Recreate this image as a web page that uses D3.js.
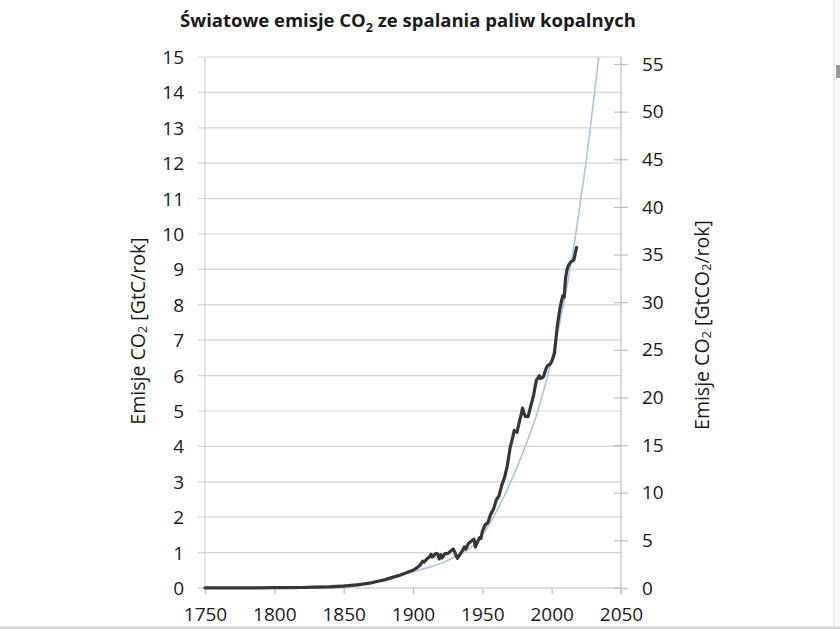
<!DOCTYPE html>
<html>
<head>
<meta charset="utf-8">
<script src="https://cdn.jsdelivr.net/npm/d3@7"></script>
<style>
  html, body { margin: 0; padding: 0; background: #ffffff; }
  svg { display: block; }
  text { font-family: "Open Sans", Lato, sans-serif; fill: #1a1a1a; }
</style>
</head>
<body>
<svg id="chart" width="840" height="629"></svg>
<script>
// ---- data ----
const histYears = [1750,1770,1790,1800,1810,1820,1830,1840,1850,1860,1870,1880,1890,1900,1903,1905,1907,1908,1910,1912,1913,1914,1916,1917,1918,1919,1920,1921,1923,1925,1927,1929,1930,1932,1934,1936,1937,1938,1940,1942,1943,1944,1945,1946,1948,1949,1950,1952,1954,1956,1958,1960,1962,1964,1966,1968,1970,1972,1973,1974,1975,1977,1978,1979,1980,1981,1983,1985,1987,1989,1990,1991,1992,1994,1996,1997,1998,1999,2000,2001,2002,2003,2004,2005,2006,2007,2008,2009,2010,2011,2012,2013,2014,2015,2016,2017,2018];
const histValues = [0.003,0.004,0.006,0.008,0.01,0.014,0.024,0.033,0.054,0.09,0.147,0.236,0.356,0.50,0.58,0.64,0.76,0.73,0.82,0.88,0.95,0.88,0.96,0.98,0.94,0.82,0.94,0.85,0.97,0.97,1.04,1.10,1.02,0.84,0.96,1.08,1.16,1.10,1.26,1.32,1.36,1.38,1.16,1.26,1.42,1.40,1.60,1.78,1.85,2.08,2.22,2.48,2.60,2.90,3.12,3.45,3.95,4.27,4.45,4.42,4.40,4.75,4.90,5.08,4.95,4.85,4.84,5.15,5.45,5.88,5.92,6.00,5.92,5.96,6.20,6.28,6.30,6.33,6.40,6.50,6.63,7.00,7.38,7.65,7.90,8.09,8.25,8.22,8.75,8.98,9.10,9.17,9.22,9.24,9.27,9.45,9.62];

const fitYears  = [1750,1800,1850,1875,1900,1925,1950,1960,1970,1980,1990,2000,2010,2015,2020,2025,2030,2034];
const fitValues = [0.003,0.02,0.08,0.2,0.46,0.78,1.5,2.15,2.95,3.9,5.0,6.45,8.3,9.4,10.7,12.1,13.7,15.0];

const xTicks = [1750,1800,1850,1900,1950,2000,2050];
const yTicksLeft = [0,1,2,3,4,5,6,7,8,9,10,11,12,13,14,15];
const yTicksRight = [0,5,10,15,20,25,30,35,40,45,50,55];

const titleMain = "Światowe emisje CO";
const titleRest = " ze spalania paliw kopalnych";
const leftLabel = ["Emisje CO", "2", " [GtC/rok]"];
const rightLabel = ["Emisje CO", "2", " [GtCO", "2", "/rok]"];

// ---- scales ----
const x = d3.scaleLinear().domain([1750, 2050]).range([205, 621]);
const y = d3.scaleLinear().domain([0, 15]).range([588, 57]);
const y2 = d3.scaleLinear().domain([0, 55]).range([588, 64]);

const FONT = "'Open Sans', Lato, sans-serif";
const svg = d3.select("#chart");

// window border artifacts
svg.append("rect").attr("x", 833).attr("y", 0).attr("width", 7).attr("height", 629).attr("fill", "#fafafa");
svg.append("line").attr("x1", 834).attr("x2", 834).attr("y1", 0).attr("y2", 629).attr("stroke", "#e2e2e2");
svg.append("rect").attr("x", 836).attr("y", 65).attr("width", 4).attr("height", 13).attr("fill", "#9a9a9a");
svg.append("rect").attr("x", 0).attr("y", 626.5).attr("width", 840).attr("height", 2.5).attr("fill", "#d6d6d6");

// gridlines
svg.append("g")
  .selectAll("line")
  .data(yTicksLeft)
  .join("line")
  .attr("x1", 198).attr("x2", 621)
  .attr("y1", d => y(d)).attr("y2", d => y(d))
  .attr("stroke", d => d === 0 ? "#bdbdbd" : "#d4d4d4")
  .attr("stroke-width", 1.2);

// left axis line
svg.append("line").attr("x1", 205).attr("x2", 205).attr("y1", y(15)).attr("y2", y(0))
  .attr("stroke", "#d4d4d4").attr("stroke-width", 1.2);

// left tick labels
svg.append("g").selectAll("text").data(yTicksLeft).join("text")
  .attr("x", 184).attr("y", d => y(d))
  .attr("text-anchor", "end").attr("dominant-baseline", "central")
  .attr("font-size", 19).text(d => d);

// right axis
const rightAxis = d3.axisRight(y2).tickValues(yTicksRight).tickSize(7).tickPadding(14).tickSizeOuter(0);
const gR = svg.append("g").attr("transform", "translate(621,0)").call(rightAxis);
gR.select(".domain").attr("stroke", "#bfbfbf").attr("stroke-width", 1.2).attr("d", `M0,${y(15)}V594`);
gR.selectAll(".tick line").attr("stroke", "#bfbfbf").attr("stroke-width", 1.2).attr("x1", -7).attr("x2", 7);
gR.selectAll(".tick text").attr("font-size", 19).attr("font-family", FONT).attr("fill", "#1a1a1a");

// bottom axis
const bottomAxis = d3.axisBottom(x).tickValues(xTicks).tickFormat(d3.format("d")).tickSize(6).tickPadding(14).tickSizeOuter(0);
const gB = svg.append("g").attr("transform", `translate(0,${y(0)})`).call(bottomAxis);
gB.select(".domain").remove();
gB.selectAll(".tick line").attr("stroke", "#bfbfbf").attr("stroke-width", 1.2);
gB.selectAll(".tick text").attr("font-size", 19).attr("font-family", FONT).attr("fill", "#1a1a1a");

// fit curve
const fitData = fitYears.map((yr, i) => [yr, fitValues[i]]);
svg.append("path")
  .datum(fitData)
  .attr("fill", "none")
  .attr("stroke", "#a9c6e0")
  .attr("stroke-width", 1.6)
  .attr("d", d3.line().x(d => x(d[0])).y(d => y(d[1])).curve(d3.curveMonotoneX));

// historic emissions
const histData = histYears.map((yr, i) => [yr, histValues[i]]);
svg.append("path")
  .datum(histData)
  .attr("fill", "none")
  .attr("stroke", "#363636")
  .attr("stroke-width", 3.2)
  .attr("stroke-linejoin", "round")
  .attr("stroke-linecap", "round")
  .attr("d", d3.line().x(d => x(d[0])).y(d => y(d[1])));

// title
const title = svg.append("text").attr("x", 408).attr("y", 27).attr("text-anchor", "middle")
  .attr("font-size", 18.5).attr("font-weight", "bold").attr("fill", "#000");
title.append("tspan").text(titleMain);
title.append("tspan").attr("font-size", 12.5).attr("dy", 5).text("2");
title.append("tspan").attr("dy", -5).text(titleRest);

// axis titles
function rotLabel(cx, cy, parts) {
  const t = svg.append("text")
    .attr("transform", `translate(${cx},${cy}) rotate(-90)`)
    .attr("text-anchor", "middle").attr("dominant-baseline", "central")
    .attr("font-size", 19.5);
  parts.forEach((p, i) => {
    const isSub = (i % 2 === 1);
    const ts = t.append("tspan").text(p);
    if (isSub) { ts.attr("font-size", 13).attr("dy", 5); }
    else if (i > 0) { ts.attr("dy", -5); }
  });
}
rotLabel(137, 331, leftLabel);
rotLabel(701, 325, rightLabel);
</script>
</body>
</html>
